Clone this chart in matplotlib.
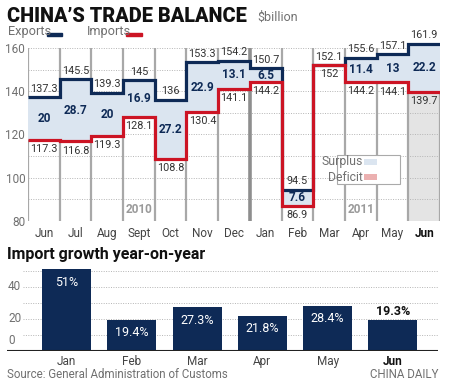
import numpy as np
import matplotlib
matplotlib.use("Agg")
import matplotlib.pyplot as plt
from matplotlib import font_manager as fm
from matplotlib.patches import Rectangle

# ---------------- data ----------------
months = ["Jun", "Jul", "Aug", "Sept", "Oct", "Nov", "Dec", "Jan", "Feb", "Mar", "Apr", "May", "Jun"]
exports = [137.3, 145.5, 139.3, 145, 136, 153.3, 154.2, 150.7, 94.5, 152.1, 155.6, 157.1, 161.9]
imports = [117.3, 116.8, 119.3, 128.1, 108.8, 130.4, 141.1, 144.2, 86.9, 152, 144.2, 144.1, 139.7]
surplus_labels = ["20", "28.7", "20", "16.9", "27.2", "22.9", "13.1", "6.5", "7.6", "", "11.4", "13", "22.2"]
export_labels = ["137.3", "145.5", "139.3", "145", "136", "153.3", "154.2", "150.7", "94.5", "152.1", "155.6", "157.1", "161.9"]
import_labels = ["117.3", "116.8", "119.3", "128.1", "108.8", "130.4", "141.1", "144.2", "86.9", "152", "144.2", "144.1", "139.7"]
top_yticks = [80, 100, 120, 140, 160]

growth_months = ["Jan", "Feb", "Mar", "Apr", "May", "Jun"]
growth = [51, 19.4, 27.3, 21.8, 28.4, 19.3]
growth_labels = ["51%", "19.4%", "27.3%", "21.8%", "28.4%", "19.3%"]
bottom_yticks = [0, 20, 40]

# ---------------- style ----------------
names = {f.name for f in fm.fontManager.ttflist}
FONT = "Liberation Sans Narrow" if "Liberation Sans Narrow" in names else "Roboto"
plt.rcParams["font.family"] = [FONT, "DejaVu Sans"]

NAVY = "#0e2a56"
RED = "#cc1424"
SURPLUS = "#dbe5f0"
DEFICIT = "#ebb0b0"
GRAY_TXT = "#707070"
GRID = "#a8a8a8"

fig = plt.figure(figsize=(4.5, 3.86), dpi=100)
W, H = 450, 386

def fx(px):
    return px / W

def fy(py):
    return 1 - py / H

# ---------------- header ----------------
fig.text(fx(7), fy(16), "CHINA\u2019S TRADE BALANCE", fontsize=14.3, fontweight="black",
         family=["Roboto", "DejaVu Sans"], color="#111111", va="center", ha="left")
fig.text(fx(257), fy(17), "$billion", fontsize=9, color=GRAY_TXT, va="center", ha="left")
fig.text(fx(8), fy(32), "Exports", fontsize=9.2, color=GRAY_TXT, va="center", ha="left")
fig.text(fx(87), fy(32), "Imports", fontsize=9.2, color=GRAY_TXT, va="center", ha="left")
fig.patches.append(Rectangle((fx(47), fy(36)), fx(15), 3 / H, transform=fig.transFigure, color=NAVY))
fig.patches.append(Rectangle((fx(126), fy(36)), fx(16), 3 / H, transform=fig.transFigure, color=RED))

# ---------------- top chart ----------------
ax = fig.add_axes([fx(28), fy(221), fx(412), (221 - 41.5) / H])
n = len(months)
edges = np.arange(n + 1) - 0.5
ax.set_xlim(-0.5, n - 0.5)
ax.set_ylim(80, 163)

# highlight last column
ax.fill_between([n - 1.5, n - 0.5], 80, 160, color="#e4e4e4", lw=0, zorder=0)
# dotted horizontal grid
for v in range(80, 161, 10):
    ax.plot([-0.5, n - 0.5], [v, v], ls=(0, (1, 1.5)), color="#b5b5b5", lw=0.7, zorder=1)
# vertical separators
for e in edges:
    lw = 2.6 if e == 6.5 else 1.6
    c = "#8e8e8e" if e == 6.5 else GRID
    ax.plot([e, e], [80, 160], color=c, lw=lw, zorder=1, solid_capstyle="butt")

ex_ext = np.append(exports, exports[-1])
im_ext = np.append(imports, imports[-1])
ax.fill_between(edges, ex_ext, im_ext, step="post", color=SURPLUS, lw=0, zorder=2)
ax.stairs(exports, edges, baseline=None, color=NAVY, lw=2.3, zorder=3)
ax.stairs(imports, edges, baseline=None, color=RED, lw=2.3, zorder=4)

for i in range(n):
    ax.annotate(export_labels[i], (i, exports[i]), xytext=(0, 2.5), textcoords="offset points",
                ha="center", va="bottom", fontsize=7.8, color="#333333", zorder=5)
    ax.annotate(import_labels[i], (i, imports[i]), xytext=(0, -3), textcoords="offset points",
                ha="center", va="top", fontsize=7.8, color="#333333", zorder=5)
    if surplus_labels[i]:
        ax.text(i, (exports[i] + imports[i]) / 2, surplus_labels[i], ha="center", va="center",
                fontsize=8.5, fontweight="bold", color=NAVY, zorder=5)

ax.text(3, 85.2, "2010", ha="center", va="center", fontsize=8.5, fontweight="bold", color="#9a9a9a", zorder=5)
ax.text(10, 85.2, "2011", ha="center", va="center", fontsize=8.5, fontweight="bold", color="#9a9a9a", zorder=5)

# legend box
ax.add_patch(Rectangle((9.25, 97.1), 1.99, 13.4, facecolor="white", edgecolor="#aaaaaa", lw=0.8, zorder=6))
ax.text(10.07, 107.3, "Surplus", ha="right", va="center", fontsize=8.8, color=GRAY_TXT, zorder=7)
ax.text(10.07, 100.3, "Deficit", ha="right", va="center", fontsize=8.8, color=GRAY_TXT, zorder=7)
ax.add_patch(Rectangle((10.1, 105.9), 0.42, 2.8, facecolor=SURPLUS, lw=0, zorder=7))
ax.add_patch(Rectangle((10.1, 98.9), 0.42, 2.8, facecolor=DEFICIT, lw=0, zorder=7))

ax.set_xticks(range(n))
ax.set_xticklabels(months, fontsize=8.5, color="#444444")
ax.get_xticklabels()[-1].set_fontweight("bold")
ax.get_xticklabels()[-1].set_color("#111111")
ax.set_yticks(top_yticks)
ax.set_yticklabels([str(v) for v in top_yticks], fontsize=8.5, color=GRAY_TXT)
ax.tick_params(length=0, pad=2)
ax.tick_params(axis="x", pad=4)
for s in ax.spines.values():
    s.set_visible(False)

# ---------------- bottom chart ----------------
fig.text(fx(7), fy(255), "Import growth year-on-year", fontsize=11.5, fontweight="bold",
         family=["Roboto", "DejaVu Sans"], color="#111111", va="center", ha="left")

bx = fig.add_axes([fx(7), fy(351), fx(431), (351 - 267.8) / H])
m = len(growth)
bx.set_xlim(-0.911, m - 1 + 0.69)
bx.set_ylim(0, 52)
for v in range(10, 51, 10):
    bx.plot([-0.666, m - 1 + 0.69], [v, v], ls=(0, (1, 1.5)), color="#b5b5b5", lw=0.7, zorder=1)
bx.axhline(0, color="#222222", lw=1.5, zorder=3)
bars = bx.bar(range(m), growth, width=0.75, color=NAVY, zorder=2)
for i, (b, lab) in enumerate(zip(bars, growth_labels)):
    if i == m - 1:
        bx.annotate(lab, (i, growth[i]), xytext=(0, 1.5), textcoords="offset points",
                    ha="center", va="bottom", fontsize=9, fontweight="bold", color="#111111")
    else:
        bx.annotate(lab, (i, growth[i]), xytext=(0, -4.5), textcoords="offset points",
                    ha="center", va="top", fontsize=9, color="white")
for v in bottom_yticks:
    if v == 0:
        bx.annotate(str(v), (-0.896, v), xytext=(0, 3), textcoords="offset points",
                    ha="left", va="bottom", fontsize=8.5, color=GRAY_TXT)
    else:
        bx.text(-0.896, v, str(v), ha="left", va="center", fontsize=8.5, color=GRAY_TXT)
bx.set_yticks([])
bx.set_xticks(range(m))
bx.set_xticklabels(growth_months, fontsize=8.5, color="#444444")
bx.get_xticklabels()[-1].set_fontweight("bold")
bx.get_xticklabels()[-1].set_color("#111111")
bx.tick_params(length=0, pad=3)
for s in bx.spines.values():
    s.set_visible(False)

fig.text(fx(7), fy(374), "Source: General Administration of Customs", fontsize=8.3, color=GRAY_TXT,
         va="center", ha="left")
fig.text(fx(438), fy(374), "CHINA DAILY", fontsize=8.3, color=GRAY_TXT, va="center", ha="right")

fig.savefig("out.png", dpi=100, facecolor="white")
